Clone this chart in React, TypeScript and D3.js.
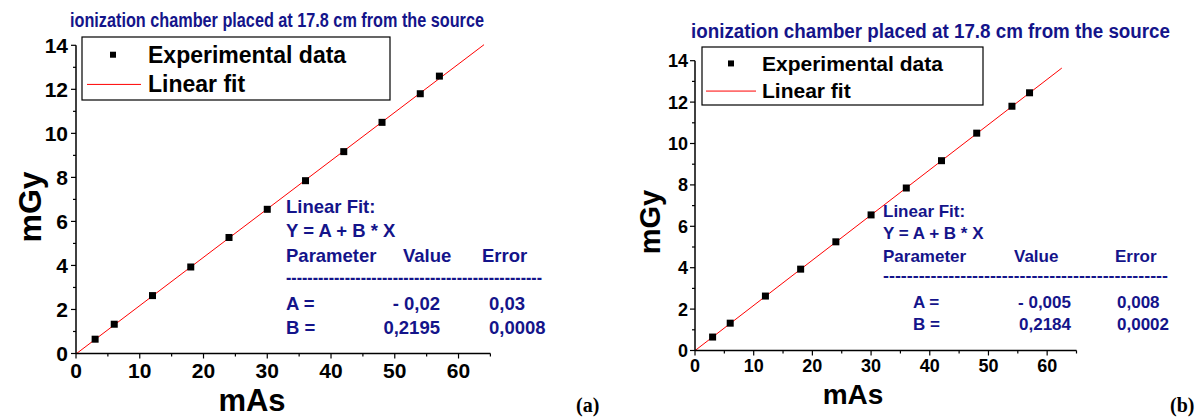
import React from "react";
import * as d3 from "d3";

// Dose readings (mGy) against tube charge (mAs)
const mAs = [3, 6, 12, 18, 24, 30, 36, 42, 48, 54, 57];
const doseA = [0.65, 1.33, 2.63, 3.93, 5.27, 6.55, 7.85, 9.17, 10.5, 11.8, 12.6];
const doseB = [0.65, 1.32, 2.63, 3.93, 5.25, 6.55, 7.85, 9.17, 10.5, 11.8, 12.45];

// Fit parameters printed in each panel
const fitA = { a: -0.02, b: 0.2195, aText: "- 0,02", bText: "0,2195", aErr: "0,03", bErr: "0,0008" };
const fitB = { a: -0.005, b: 0.2184, aText: "- 0,005", bText: "0,2184", aErr: "0,008", bErr: "0,0002" };

const xMajor = [0, 10, 20, 30, 40, 50, 60];
const xMinor = [5, 15, 25, 35, 45, 55, 65];
const yMajor = [0, 2, 4, 6, 8, 10, 12, 14];
const yMinor = [1, 3, 5, 7, 9, 11, 13];

const titleText = "ionization chamber placed at 17.8 cm from the source";
const NAVY = "#14148a";
const FONT = "'Liberation Sans', Arial, Helvetica, sans-serif";

type Layout = {
  x0: number; x1: number; y0: number; y1: number;
  fitEnd: number;
  tickFont: number; tickDy: number; yTickDx: number;
  title: { x: number; y: number; w: number; size: number };
  legend: { x: number; y: number; w: number; h: number; size: number; mx: number; tx: number; r1: number; r2: number; lx1: number; lx2: number };
  yLabel: { x: number; y: number; size: number };
  xLabel: { x: number; y: number; size: number };
  info: { x: number; size: number; rows: number[]; dashY: number; dashW: number; eqX: number; valHead: number; valEnd: number; errX: number; errHead: number };
  tag: { x: number; text: string };
};

const layoutA: Layout = {
  x0: 76, x1: 490.4, y0: 353.5, y1: 45.3,
  fitEnd: 64,
  tickFont: 21, tickDy: 24, yTickDx: -8,
  title: { x: 70, y: 27, w: 414, size: 17 },
  legend: { x: 82, y: 37, w: 308, h: 63, size: 23, mx: 113, tx: 148, r1: 63, r2: 92, lx1: 87, lx2: 141 },
  yLabel: { x: 41, y: 207, size: 32 },
  xLabel: { x: 252, y: 411, size: 31 },
  info: { x: 286, size: 18.5, rows: [213, 237, 262, 310, 334], dashY: 284, dashW: 256, eqX: 286, valHead: 403, valEnd: 440, errX: 489, errHead: 482 },
  tag: { x: 576, text: "(a)" },
};

const layoutB: Layout = {
  x0: 695, x1: 1076.5, y0: 350.5, y1: 60.7,
  fitEnd: 62.5,
  tickFont: 18, tickDy: 21, yTickDx: -7,
  title: { x: 691, y: 38, w: 479, size: 16 },
  legend: { x: 702, y: 47, w: 281, h: 58, size: 21, mx: 731, tx: 762, r1: 71, r2: 98, lx1: 706, lx2: 756 },
  yLabel: { x: 660, y: 222, size: 29 },
  xLabel: { x: 853, y: 404, size: 28 },
  info: { x: 883, size: 17, rows: [217, 239, 262, 308, 330], dashY: 281, dashW: 285, eqX: 913, valHead: 1014, valEnd: 1071, errX: 1117, errHead: 1115 },
  tag: { x: 1170, text: "(b)" },
};

function Panel({ L, ys, fit }: { L: Layout; ys: number[]; fit: typeof fitA }) {
  const x = d3.scaleLinear().domain([0, 65]).range([L.x0, L.x1]);
  const y = d3.scaleLinear().domain([0, 14]).range([L.y0, L.y1]);
  const fitLine = d3.line<number>().x((v) => x(v)).y((v) => y(fit.a + fit.b * v));
  const mk = 7;
  const I = L.info;
  const dashes = "-".repeat(48);
  return (
    <g fontFamily={FONT} fontWeight="bold">
      {/* title, drawn slightly tall */}
      <text
        transform={`translate(${L.title.x},${L.title.y}) scale(1,1.22)`}
        fontSize={L.title.size}
        fill={NAVY}
        textLength={L.title.w}
        lengthAdjust="spacingAndGlyphs"
      >
        {titleText}
      </text>

      {/* fit line and measurements */}
      <path d={fitLine([0, L.fitEnd]) ?? ""} stroke="#ff0000" strokeWidth={1} fill="none" />
      {mAs.map((m, i) => (
        <rect key={i} x={x(m) - mk / 2} y={y(ys[i]) - mk / 2} width={mk} height={mk} fill="#000" />
      ))}

      {/* axes */}
      <line x1={L.x0} x2={L.x1} y1={L.y0} y2={L.y0} stroke="#000" strokeWidth={1.5} />
      <line x1={L.x0} x2={L.x0} y1={L.y0} y2={L.y1} stroke="#000" strokeWidth={1.5} />
      {xMajor.map((v) => (
        <g key={"xM" + v}>
          <line x1={x(v)} x2={x(v)} y1={L.y0} y2={L.y0 + 5} stroke="#000" strokeWidth={1.2} />
          <text x={x(v)} y={L.y0 + L.tickDy} fontSize={L.tickFont} textAnchor="middle" fill="#000">{v}</text>
        </g>
      ))}
      {xMinor.map((v) => (
        <line key={"xm" + v} x1={x(v)} x2={x(v)} y1={L.y0} y2={L.y0 + 3} stroke="#000" strokeWidth={1.2} />
      ))}
      {yMajor.map((v) => (
        <g key={"yM" + v}>
          <line x1={L.x0} x2={L.x0 - 5} y1={y(v)} y2={y(v)} stroke="#000" strokeWidth={1.2} />
          <text x={L.x0 + L.yTickDx} y={y(v)} dy="0.36em" fontSize={L.tickFont} textAnchor="end" fill="#000">{v}</text>
        </g>
      ))}
      {yMinor.map((v) => (
        <line key={"ym" + v} x1={L.x0} x2={L.x0 - 3} y1={y(v)} y2={y(v)} stroke="#000" strokeWidth={1.2} />
      ))}

      <text transform={`translate(${L.yLabel.x},${L.yLabel.y}) rotate(-90)`} fontSize={L.yLabel.size} textAnchor="middle" fill="#000">mGy</text>
      <text x={L.xLabel.x} y={L.xLabel.y} fontSize={L.xLabel.size} textAnchor="middle" fill="#000">mAs</text>

      {/* legend */}
      <rect x={L.legend.x} y={L.legend.y} width={L.legend.w} height={L.legend.h} fill="#fff" stroke="#000" strokeWidth={1.2} />
      <rect x={L.legend.mx - 3} y={L.legend.r1 - L.legend.size * 0.36 - 3} width={6} height={6} fill="#000" />
      <text x={L.legend.tx} y={L.legend.r1} fontSize={L.legend.size} fill="#000">Experimental data</text>
      <line x1={L.legend.lx1} x2={L.legend.lx2} y1={L.legend.r2 - L.legend.size * 0.33} y2={L.legend.r2 - L.legend.size * 0.33} stroke="#ff0000" strokeWidth={1} />
      <text x={L.legend.tx} y={L.legend.r2} fontSize={L.legend.size} fill="#000">Linear fit</text>

      {/* fit summary */}
      <g fontSize={I.size} fill={NAVY}>
        <text x={I.x} y={I.rows[0]}>Linear Fit:</text>
        <text x={I.x} y={I.rows[1]}>Y = A + B * X</text>
        <text x={I.x} y={I.rows[2]}>Parameter</text>
        <text x={I.valHead} y={I.rows[2]}>Value</text>
        <text x={I.errHead} y={I.rows[2]}>Error</text>
        <text x={I.x} y={I.dashY} textLength={I.dashW} lengthAdjust="spacingAndGlyphs">{dashes}</text>
        <text x={I.eqX} y={I.rows[3]}>A =</text>
        <text x={I.valEnd} y={I.rows[3]} textAnchor="end">{fit.aText}</text>
        <text x={I.errX} y={I.rows[3]}>{fit.aErr}</text>
        <text x={I.eqX} y={I.rows[4]}>B =</text>
        <text x={I.valEnd} y={I.rows[4]} textAnchor="end">{fit.bText}</text>
        <text x={I.errX} y={I.rows[4]}>{fit.bErr}</text>
      </g>

      <text x={L.tag.x} y={412} fontSize={20} fontFamily="'Liberation Serif', 'Times New Roman', serif" fill="#000">{L.tag.text}</text>
    </g>
  );
}

export default function App() {
  return (
    <svg width={1203} height={417} style={{ position: "absolute", left: 0, top: 0, background: "#fff" }}>
      <rect width={1203} height={417} fill="#fff" />
      <Panel L={layoutA} ys={doseA} fit={fitA} />
      <Panel L={layoutB} ys={doseB} fit={fitB} />
    </svg>
  );
}
